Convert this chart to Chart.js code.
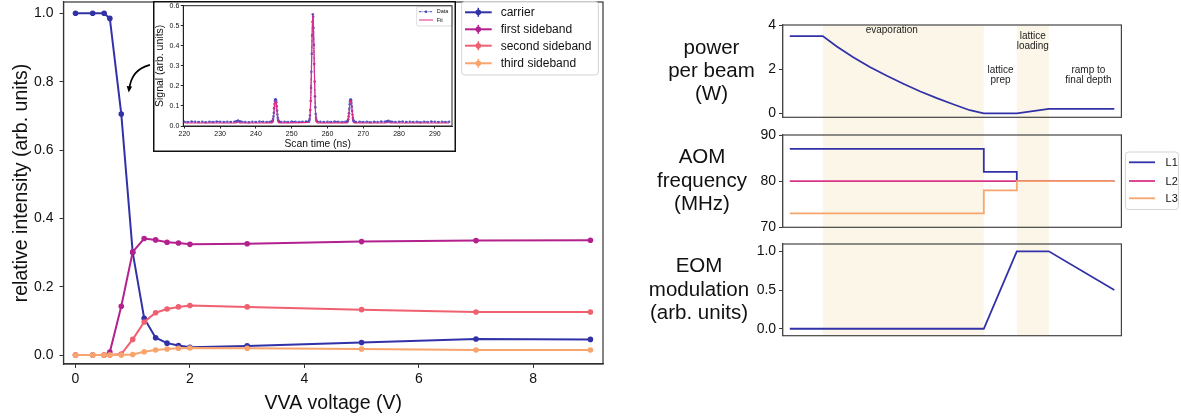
<!DOCTYPE html>
<html>
<head>
<meta charset="utf-8">
<script src="https://cdn.jsdelivr.net/npm/chart.js@4.4.0/dist/chart.umd.min.js"></script>
<style>
html, body { margin: 0; padding: 0; background: #fff; width: 1181px; height: 418px; overflow: hidden; }
body { position: relative; }
canvas { position: absolute; }
</style>
</head>
<body>
<script>
// ---- left panel: sideband intensities vs VVA voltage ----
const voltage = [0, 0.3, 0.5, 0.6, 0.8, 1.0, 1.2, 1.4, 1.6, 1.8, 2.0, 3, 5, 7, 9];
const carrier = [1.0, 1.0, 1.0, 0.985, 0.705, 0.300, 0.108, 0.051, 0.035, 0.028, 0.023, 0.027, 0.037, 0.047, 0.046];
const firstSideband = [0, 0, 0, 0.009, 0.143, 0.302, 0.341, 0.337, 0.330, 0.328, 0.324, 0.326, 0.332, 0.335, 0.336];
const secondSideband = [0, 0, 0, 0, 0.003, 0.046, 0.097, 0.124, 0.135, 0.141, 0.145, 0.141, 0.133, 0.126, 0.126];
const thirdSideband = [0, 0, 0, 0, 0, 0.002, 0.010, 0.015, 0.018, 0.020, 0.021, 0.020, 0.018, 0.015, 0.015];
const voltTicks = [0, 2, 4, 6, 8];
const intensityTicks = [0, 0.2, 0.4, 0.6, 0.8, 1.0];

// ---- inset: scan trace ----
const scanTime = [220,221,222,223,224,225,226,227,228,229,230,231,232,233,234,
  234.5,235,235.5,
  236,237,238,239,240,241,242,243,244,
  244.5,244.6,244.7,244.8,244.9,245,245.1,245.2,245.3,245.4,245.5,245.6,245.7,245.8,245.9,246,246.1,246.2,246.3,246.4,246.5,
  247,248,249,250,251,252,253,254,
  254.8,254.9,255,255.1,255.2,255.3,255.4,255.5,255.6,255.7,255.8,255.9,256,256.1,256.2,256.3,256.4,256.5,256.6,256.7,256.8,256.9,257,
  258,259,260,261,262,263,264,265,
  265.5,265.6,265.7,265.8,265.9,266,266.1,266.2,266.3,266.4,266.5,266.6,266.7,266.8,266.9,267,267.1,267.2,267.3,267.4,267.5,
  268,269,270,271,272,273,274,275,276,
  276.5,277,277.5,
  278,279,280,281,282,283,284,285,286,287,288,289,290,291,292,293,294];
const scanSignal = [0.021,0.020,0.022,0.021,0.020,0.021,0.019,0.021,0.020,0.022,0.021,0.020,0.021,0.020,0.021,
  0.024,0.027,0.023,
  0.021,0.020,0.019,0.021,0.020,0.022,0.021,0.020,0.021,
  0.021,0.023,0.027,0.035,0.048,0.066,0.088,0.110,0.125,0.131,0.133,0.129,0.118,0.099,0.077,0.057,0.041,0.031,0.025,0.022,0.021,
  0.020,0.021,0.020,0.022,0.021,0.020,0.021,0.022,
  0.023,0.027,0.035,0.052,0.080,0.125,0.190,0.270,0.360,0.450,0.520,0.557,0.545,0.490,0.405,0.310,0.222,0.148,0.094,0.060,0.040,0.030,0.024,
  0.021,0.020,0.021,0.020,0.022,0.021,0.020,0.021,
  0.021,0.022,0.026,0.034,0.047,0.064,0.086,0.108,0.124,0.131,0.132,0.128,0.116,0.097,0.075,0.056,0.040,0.030,0.025,0.022,0.021,
  0.020,0.021,0.020,0.021,0.019,0.021,0.020,0.022,0.021,
  0.023,0.026,0.022,
  0.021,0.020,0.021,0.022,0.020,0.021,0.020,0.021,0.019,0.021,0.020,0.022,0.021,0.020,0.021,0.020,0.021];
const fitTime = [220, 234.4, 235, 235.6,
  244.5, 244.7, 244.9, 245.1, 245.3, 245.5, 245.7, 245.9, 246.1, 246.3, 246.5,
  254.9, 255.1, 255.3, 255.5, 255.7, 255.9, 256.1, 256.3, 256.5, 256.7, 256.9, 257.1,
  265.5, 265.7, 265.9, 266.1, 266.3, 266.5, 266.7, 266.9, 267.1, 267.3, 267.5,
  276.4, 277, 277.6, 294];
const fitSignal = [0.015, 0.015, 0.020, 0.015,
  0.016, 0.022, 0.043, 0.083, 0.121, 0.128, 0.113, 0.072, 0.037, 0.020, 0.016,
  0.018, 0.045, 0.120, 0.265, 0.445, 0.553, 0.485, 0.305, 0.143, 0.055, 0.024, 0.016,
  0.016, 0.022, 0.043, 0.083, 0.121, 0.128, 0.113, 0.072, 0.037, 0.020, 0.016,
  0.015, 0.019, 0.015, 0.015];
const scanTicks = [220, 230, 240, 250, 260, 270, 280, 290];
const signalTicks = [0, 0.1, 0.2, 0.3, 0.4, 0.5, 0.6];

// ---- right panels: sequence timing (arbitrary time units) ----
const phaseSpans = [[3.3, 19.4], [22.7, 25.9]];
const powerTime = [0, 3.3, 4.7, 6.3, 8.0, 9.7, 11.35, 13.0, 14.7, 16.4, 18.0, 19.4, 22.7, 25.9, 32.45];
const powerW = [3.5, 3.5, 3.03, 2.55, 2.10, 1.70, 1.34, 1.0, 0.69, 0.40, 0.14, 0, 0, 0.2, 0.2];
const aomTime = [0, 19.4, 22.7, 32.45];
const aomL1 = [87, 82, 80, 80];
const aomL2 = [80, 80, 80, 80];
const aomL3 = [73, 78, 80, 80];
const eomTime = [0, 19.4, 22.7, 25.9, 32.45];
const eomMod = [0, 0, 1, 1, 0.5];
const powerTicks = [0, 2, 4];
const aomTicks = [70, 80, 90];
const eomTicks = [0, 0.5, 1.0];

const FONT = '"Liberation Sans", Arial, Helvetica, sans-serif';
const BLUE = '#3232a8', MAGENTA = '#b3218e', CORAL = '#ef6170', PEACH = '#f8a46d', PINK = '#d8348a';

function makeCanvas(box) {
  const c = document.createElement('canvas');
  c.width = box.width; c.height = box.height;
  c.style.left = box.left + 'px'; c.style.top = box.top + 'px';
  c.style.width = box.width + 'px'; c.style.height = box.height + 'px';
  document.body.appendChild(c);
  return c;
}
function pts(xs, ys) { return xs.map((x, i) => ({ x: x, y: ys[i] })); }
function fixTicks(values) { return s => { s.ticks = values.map(v => ({ value: v })); }; }
// pin an axis box size and drop the extra room Chart.js keeps for end labels
function fitX(h) { return s => { s.height = h; s.paddingLeft = 0; s.paddingRight = 0; }; }
function fitY(w) { return s => { s.width = w; s.paddingTop = 0; s.paddingBottom = 0; }; }

const frame = (color, width) => ({
  id: 'frame',
  afterDraw(chart) {
    const a = chart.chartArea, ctx = chart.ctx;
    ctx.save(); ctx.strokeStyle = color; ctx.lineWidth = width;
    ctx.strokeRect(a.left, a.top, a.right - a.left, a.bottom - a.top);
    ctx.restore();
  }
});

const common = {
  responsive: false, animation: false, devicePixelRatio: 1, events: [],
  plugins: { legend: { display: false }, tooltip: { enabled: false } }
};

// ================= main chart =================
const mainBox = { left: 0, top: -2, width: 620, height: 420 };
const mainLegend = {
  id: 'mainLegend',
  afterDraw(chart) {
    const ctx = chart.ctx;
    const x0 = 461.7, y0 = 3.7, w = 136.6, h = 73.3;
    ctx.save();
    ctx.fillStyle = 'rgba(255,255,255,0.85)'; ctx.strokeStyle = '#d4d4d4'; ctx.lineWidth = 1;
    ctx.beginPath(); ctx.roundRect(x0, y0, w, h, 3); ctx.fill(); ctx.stroke();
    const rows = [14.3, 31.3, 47.7, 65.3];
    chart.data.datasets.forEach((ds, i) => {
      const y = rows[i];
      ctx.strokeStyle = ds.borderColor; ctx.lineWidth = 2;
      ctx.beginPath(); ctx.moveTo(465, y); ctx.lineTo(491.7, y); ctx.stroke();
      ctx.lineWidth = 1.5;
      ctx.beginPath(); ctx.moveTo(478.3, y - 4.5); ctx.lineTo(478.3, y + 4.5); ctx.stroke();
      ctx.fillStyle = ds.borderColor;
      ctx.beginPath(); ctx.arc(478.3, y, 2.8, 0, Math.PI * 2); ctx.fill();
      ctx.fillStyle = '#111'; ctx.font = '12px ' + FONT; ctx.textBaseline = 'middle';
      ctx.fillText(ds.label, 500.7, y + 0.5);
    });
    ctx.restore();
  }
};
const insetArrow = {
  id: 'insetArrow',
  afterDatasetsDraw(chart) {
    const xs = chart.scales.x, ys = chart.scales.y, ctx = chart.ctx;
    const sx = xs.getPixelForValue(1.30), sy = ys.getPixelForValue(0.849);
    const cx = xs.getPixelForValue(0.97), cy = ys.getPixelForValue(0.835);
    const ex = xs.getPixelForValue(0.93), ey = ys.getPixelForValue(0.768);
    ctx.save(); ctx.strokeStyle = '#000'; ctx.fillStyle = '#000'; ctx.lineWidth = 1.6;
    ctx.beginPath(); ctx.moveTo(sx, sy); ctx.quadraticCurveTo(cx, cy, ex + 0.6, ey - 3); ctx.stroke();
    const ang = Math.atan2(ey - cy, ex - cx);
    ctx.beginPath();
    ctx.moveTo(ex, ey);
    ctx.lineTo(ex - 7 * Math.cos(ang - 0.4), ey - 7 * Math.sin(ang - 0.4));
    ctx.lineTo(ex - 7 * Math.cos(ang + 0.4), ey - 7 * Math.sin(ang + 0.4));
    ctx.closePath(); ctx.fill();
    ctx.restore();
  }
};

function series(label, ys, color, order) {
  return {
    label: label, data: pts(voltage, ys), borderColor: color, backgroundColor: color,
    borderWidth: 2, pointRadius: 2.8, pointBorderWidth: 0, pointBackgroundColor: color,
    tension: 0, order: order
  };
}
const tickStyle = (size) => ({ color: '#111', font: { family: FONT, size: size } });

new Chart(makeCanvas(mainBox), {
  type: 'line',
  data: {
    datasets: [
      series('carrier', carrier, BLUE, 3),
      series('first sideband', firstSideband, MAGENTA, 2),
      series('second sideband', secondSideband, CORAL, 1),
      series('third sideband', thirdSideband, PEACH, 0)
    ]
  },
  options: Object.assign({}, common, {
    layout: { padding: { left: 0, top: 0, right: 17, bottom: 0 } },
    scales: {
      x: {
        type: 'linear', min: -0.21, max: 9.22,
        afterBuildTicks: fixTicks(voltTicks),
        afterFit: fitX(54),
        ticks: Object.assign(tickStyle(14), { padding: 3, maxRotation: 0, autoSkip: false, callback: v => String(v) }),
        grid: { drawOnChartArea: false, tickLength: 4, color: '#333' },
        border: { color: '#333', width: 1.2 },
        title: { display: true, text: 'VVA voltage (V)', color: '#111', font: { family: FONT, size: 19.5 }, padding: { top: 0, bottom: 3 } }
      },
      y: {
        type: 'linear', min: -0.026, max: 1.033,
        afterBuildTicks: fixTicks(intensityTicks),
        afterFit: fitY(63.5),
        ticks: Object.assign(tickStyle(14), { padding: 6, callback: v => v.toFixed(1) }),
        grid: { drawOnChartArea: false, tickLength: 4, color: '#333' },
        border: { color: '#333', width: 1.2 },
        title: { display: true, text: 'relative intensity (arb. units)', color: '#111', font: { family: FONT, size: 19.5 }, padding: { top: 10, bottom: 0 } }
      }
    }
  }),
  plugins: [frame('#333', 1.2), insetArrow, mainLegend]
});

// ================= inset =================
const insetBox = { left: 153, top: 1, width: 303, height: 151 };
const insetDecor = {
  id: 'insetDecor',
  beforeDraw(chart) {
    const ctx = chart.ctx;
    ctx.save(); ctx.fillStyle = '#fff'; ctx.fillRect(0, 0, chart.width, chart.height); ctx.restore();
  },
  afterDraw(chart) {
    const ctx = chart.ctx;
    ctx.save();
    ctx.strokeStyle = '#111'; ctx.lineWidth = 1.5;
    ctx.strokeRect(0.75, 0.75, chart.width - 1.5, chart.height - 1.5);
    // legend
    ctx.fillStyle = 'rgba(255,255,255,0.9)'; ctx.strokeStyle = '#d4d4d4'; ctx.lineWidth = 0.8;
    ctx.beginPath(); ctx.roundRect(263.7, 5.7, 36, 19.3, 1.5); ctx.fill(); ctx.stroke();
    const ds = chart.data.datasets;
    ctx.font = '5.5px ' + FONT; ctx.textBaseline = 'middle';
    ctx.strokeStyle = ds[0].borderColor; ctx.lineWidth = 1; ctx.setLineDash([2.5, 1, 0.8, 1]);
    ctx.beginPath(); ctx.moveTo(266, 10.7); ctx.lineTo(280, 10.7); ctx.stroke();
    ctx.setLineDash([]);
    ctx.fillStyle = ds[0].borderColor; ctx.beginPath(); ctx.arc(273, 10.7, 1.3, 0, Math.PI * 2); ctx.fill();
    ctx.strokeStyle = ds[1].borderColor; ctx.lineWidth = 1;
    ctx.beginPath(); ctx.moveTo(266, 19); ctx.lineTo(280, 19); ctx.stroke();
    ctx.fillStyle = '#111';
    ctx.fillText(ds[0].label, 283.7, 10.9);
    ctx.fillText(ds[1].label, 283.7, 19.2);
    ctx.restore();
  }
};
new Chart(makeCanvas(insetBox), {
  type: 'line',
  data: {
    datasets: [
      { label: 'Data', data: pts(scanTime, scanSignal), borderColor: '#4444bb', backgroundColor: '#4444bb',
        borderWidth: 1.1, borderDash: [3, 1.2, 1, 1.2], pointRadius: 1.3, pointBorderWidth: 0,
        pointBackgroundColor: 'rgba(68,68,187,0.85)', tension: 0, order: 1 },
      { label: 'Fit', data: pts(fitTime, fitSignal), borderColor: '#dc2a88', borderWidth: 1.2,
        pointRadius: 0, cubicInterpolationMode: 'monotone', order: 0 }
    ]
  },
  options: Object.assign({}, common, {
    layout: { padding: { left: 0, top: 4.7, right: 2.7, bottom: 0 } },
    scales: {
      x: {
        type: 'linear', min: 219.7, max: 294.8,
        afterBuildTicks: fixTicks(scanTicks),
        afterFit: fitX(26),
        ticks: Object.assign(tickStyle(7), { padding: 1, maxRotation: 0, autoSkip: false }),
        grid: { drawOnChartArea: false, tickLength: 2.5, color: '#222' },
        border: { color: '#222', width: 1 },
        title: { display: true, text: 'Scan time (ns)', color: '#111', font: { family: FONT, size: 10.3 }, padding: { top: 0, bottom: 1.8 } }
      },
      y: {
        type: 'linear', min: 0, max: 0.6,
        afterBuildTicks: fixTicks(signalTicks),
        afterFit: fitY(30.3),
        ticks: Object.assign(tickStyle(7), { padding: 1.5, callback: v => v.toFixed(1) }),
        grid: { drawOnChartArea: false, tickLength: 2.5, color: '#222' },
        border: { color: '#222', width: 1 },
        title: { display: true, text: 'Signal (arb. units)', color: '#111', font: { family: FONT, size: 10.5 }, padding: { top: 0.7, bottom: 0 } }
      }
    }
  }),
  plugins: [insetDecor, frame('#222', 1)]
});

// ================= right panels =================
const timeMin = -0.72, timeMax = 33.16;
function phases(fromArea, toArea) {
  return {
    id: 'phases',
    beforeDatasetsDraw(chart) {
      const xs = chart.scales.x, a = chart.chartArea, ctx = chart.ctx;
      const top = fromArea ? a.top : 0, bottom = toArea ? a.bottom : chart.height;
      ctx.save(); ctx.fillStyle = 'rgba(240,220,170,0.27)';
      phaseSpans.forEach(sp => {
        const x1 = xs.getPixelForValue(sp[0]), x2 = xs.getPixelForValue(sp[1]);
        ctx.fillRect(x1, top, x2 - x1, bottom - top);
      });
      ctx.restore();
    }
  };
}
function sideLabel(lines, cx, cys) {
  return {
    id: 'sideLabel',
    afterDraw(chart) {
      const ctx = chart.ctx;
      ctx.save(); ctx.fillStyle = '#111'; ctx.font = '20.5px ' + FONT;
      ctx.textAlign = 'center'; ctx.textBaseline = 'middle';
      lines.forEach((t, i) => ctx.fillText(t, cx, cys[i]));
      ctx.restore();
    }
  };
}
const phaseNotes = [
  { lines: ['evaporation'], t: 10.2, v: 3.74 },
  { lines: ['lattice', 'prep'], t: 21.07, v: 1.96 },
  { lines: ['lattice', 'loading'], t: 24.3, v: 3.47 },
  { lines: ['ramp to', 'final depth'], t: 29.86, v: 1.96 }
];
const notesPlugin = {
  id: 'notes',
  afterDatasetsDraw(chart) {
    const ctx = chart.ctx, xs = chart.scales.x, ys = chart.scales.y;
    ctx.save(); ctx.fillStyle = '#222'; ctx.font = '10px ' + FONT;
    ctx.textAlign = 'center'; ctx.textBaseline = 'middle';
    phaseNotes.forEach(n => {
      const x = xs.getPixelForValue(n.t), y = ys.getPixelForValue(n.v);
      n.lines.forEach((l, i) => ctx.fillText(l, x, y + i * 10));
    });
    ctx.restore();
  }
};
const aomLegend = {
  id: 'aomLegend',
  afterDraw(chart) {
    const ctx = chart.ctx;
    ctx.save();
    ctx.fillStyle = 'rgba(255,255,255,0.9)'; ctx.strokeStyle = '#d4d4d4'; ctx.lineWidth = 1;
    ctx.beginPath(); ctx.roundRect(505.4, 26, 53, 57.5, 3); ctx.fill(); ctx.stroke();
    const rows = [36.3, 55, 72.3];
    ctx.font = '11px ' + FONT; ctx.textBaseline = 'middle';
    chart.data.datasets.forEach((ds, i) => {
      ctx.strokeStyle = ds.borderColor; ctx.lineWidth = 1.8;
      ctx.beginPath(); ctx.moveTo(509, rows[i]); ctx.lineTo(535, rows[i]); ctx.stroke();
      ctx.fillStyle = '#111'; ctx.fillText(ds.label, 545.6, rows[i] + 0.5);
    });
    ctx.restore();
  }
};

function panel(box, area, datasets, yMin, yMax, ticks, fmt, extraPlugins) {
  return new Chart(makeCanvas(box), {
    type: 'line',
    data: { datasets: datasets },
    options: Object.assign({}, common, {
      layout: { padding: { left: 0, top: area.top - box.top, right: box.left + box.width - area.right, bottom: box.top + box.height - area.bottom } },
      scales: {
        x: { type: 'linear', display: false, min: timeMin, max: timeMax },
        y: {
          type: 'linear', min: yMin, max: yMax,
          afterBuildTicks: fixTicks(ticks),
          afterFit: fitY(area.left - box.left),
          ticks: Object.assign(tickStyle(14), { padding: 3, callback: fmt }),
          grid: { drawOnChartArea: false, tickLength: 3.5, color: '#333' },
          border: { color: '#444', width: 1.2 }
        }
      }
    }),
    plugins: [frame('#444', 1.2)].concat(extraPlugins)
  });
}
const line = (label, xs, ys, color, order, stepped) => ({
  label: label, data: pts(xs, ys), borderColor: color, borderWidth: 1.8, pointRadius: 0,
  stepped: stepped || false, tension: 0, order: order
});

panel({ left: 620, top: 0, width: 561, height: 126 }, { left: 782.6, right: 1121.4, top: 25, bottom: 117.3 },
  [line('power', powerTime, powerW, BLUE, 0)], -0.18, 4, powerTicks, v => String(v),
  [phases(true, false), notesPlugin, sideLabel(['power', 'per beam', '(W)'], 91.5, [48, 71, 94.5])]);

panel({ left: 620, top: 126, width: 561, height: 110 }, { left: 782.6, right: 1121.4, top: 135, bottom: 227.3 },
  [line('L1', aomTime, aomL1, BLUE, 2, 'before'), line('L2', aomTime, aomL2, PINK, 1, 'before'), line('L3', aomTime, aomL3, PEACH, 0, 'before')],
  70, 90, aomTicks, v => String(v),
  [phases(false, false), aomLegend, sideLabel(['AOM', 'frequency', '(MHz)'], 82, [31.7, 55, 78.3])]);

panel({ left: 620, top: 236, width: 561, height: 182 }, { left: 782.6, right: 1121.4, top: 244, bottom: 335.7 },
  [line('EOM', eomTime, eomMod, BLUE, 0)], -0.09, 1.094, eomTicks, v => v.toFixed(1),
  [phases(false, true), sideLabel(['EOM', 'modulation', '(arb. units)'], 79, [30.7, 54, 77.3])]);
</script>
</body>
</html>
